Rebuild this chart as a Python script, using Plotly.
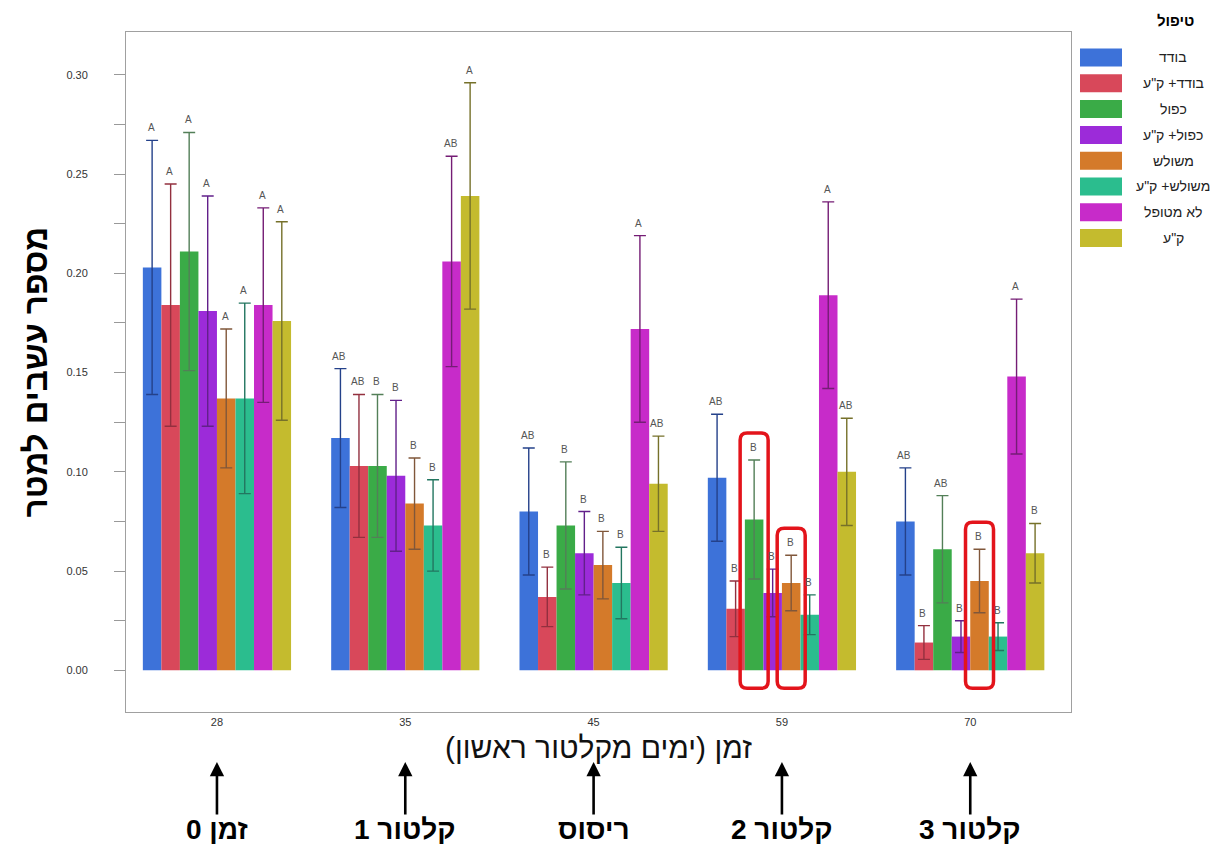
import plotly.graph_objects as go

# ---------------- data ----------------
days = ["28", "35", "45", "59", "70"]
treatments = ["בודד", "בודד+ ק\"ע", "כפול", "כפול+ ק\"ע", "משולש", "משולש+ ק\"ע", "לא מטופל", "ק\"ע"]

single_vals = [0.203, 0.117, 0.080, 0.097, 0.075]
single_err = [0.064, 0.035, 0.032, 0.032, 0.027]
single_ltr = ["A", "AB", "AB", "AB", "AB"]

single_h_vals = [0.184, 0.103, 0.037, 0.031, 0.014]
single_h_err = [0.061, 0.036, 0.015, 0.014, 0.0085]
single_h_ltr = ["A", "AB", "B", "B", "B"]

double_vals = [0.211, 0.103, 0.073, 0.076, 0.061]
double_err = [0.060, 0.036, 0.032, 0.030, 0.027]
double_ltr = ["A", "B", "B", "B", "AB"]

double_h_vals = [0.181, 0.098, 0.059, 0.039, 0.017]
double_h_err = [0.058, 0.038, 0.021, 0.012, 0.008]
double_h_ltr = ["A", "B", "B", "B", "B"]

triple_vals = [0.137, 0.084, 0.053, 0.044, 0.045]
triple_err = [0.035, 0.023, 0.017, 0.014, 0.016]
triple_ltr = ["A", "B", "B", "B", "B"]

triple_h_vals = [0.137, 0.073, 0.044, 0.028, 0.017]
triple_h_err = [0.048, 0.023, 0.018, 0.010, 0.007]
triple_h_ltr = ["A", "B", "B", "B", "B"]

untreated_vals = [0.184, 0.206, 0.172, 0.189, 0.148]
untreated_err = [0.049, 0.053, 0.047, 0.047, 0.039]
untreated_ltr = ["A", "AB", "A", "A", "A"]

herb_vals = [0.176, 0.239, 0.094, 0.100, 0.059]
herb_err = [0.050, 0.057, 0.024, 0.027, 0.015]
herb_ltr = ["A", "A", "AB", "AB", "B"]

y_ticks = [0.00, 0.05, 0.10, 0.15, 0.20, 0.25, 0.30]
y_tick_labels = ["0.00", "0.05", "0.10", "0.15", "0.20", "0.25", "0.30"]

stage_labels = ["זמן 0", "קלטור 1", "ריסוס", "קלטור 2", "קלטור 3"]
highlighted = [(3, 2), (3, 4), (4, 4)]  # (day index, treatment index)

series_vals = [single_vals, single_h_vals, double_vals, double_h_vals,
               triple_vals, triple_h_vals, untreated_vals, herb_vals]
series_err = [single_err, single_h_err, double_err, double_h_err,
              triple_err, triple_h_err, untreated_err, herb_err]
series_ltr = [single_ltr, single_h_ltr, double_ltr, double_h_ltr,
              triple_ltr, triple_h_ltr, untreated_ltr, herb_ltr]

# ---------------- style ----------------
colors = ["#3d72d9", "#d8485a", "#3aab47", "#9c2bd9", "#d47a2a", "#2bbd8e", "#c72bc9", "#c4bb2e"]
err_colors = ["#24418a", "#93303f", "#537f58", "#62208a", "#80573a", "#237660", "#751d75", "#76712a"]

OFF = 8  # page body margin of the browser
W, H = 1229 - OFF, 845 - OFF
PL, PR, PT, PB = 126, 1071, 32, 712   # plot area in window pixels
XR = [-0.483, 4.535]
YR = [-0.021, 0.3216]
BARGAP = 0.213
N = len(treatments)
bw = (1 - BARGAP) / N


def px_x(px):
    return (px - PL) / (PR - PL)


def px_y(py):
    return (PB - py) / (PB - PT)


dx_per_px = (XR[1] - XR[0]) / (PR - PL)
dy_per_px = (YR[1] - YR[0]) / (PB - PT)

fig = go.Figure()
for s in range(N):
    fig.add_trace(go.Bar(
        x=days, y=series_vals[s], name=treatments[s],
        marker=dict(color=colors[s], line=dict(width=0)),
        error_y=dict(type="data", array=series_err[s], visible=True,
                     color=err_colors[s], thickness=1.4, width=6),
        showlegend=False,
    ))

annotations = []
# significance letters
for s in range(N):
    for g in range(len(days)):
        annotations.append(dict(
            x=g + (s - (N - 1) / 2) * bw, y=series_vals[s][g] + series_err[s][g],
            xref="x", yref="y", text=series_ltr[s][g], showarrow=False,
            yanchor="bottom", yshift=5, xshift=-1,
            font=dict(size=10, color="#555555", family="Liberation Sans, Arial")))

# stage arrows and labels
for g in range(len(days)):
    annotations.append(dict(
        x=g, y=px_y(762), xref="x", yref="paper", text="", showarrow=True,
        ax=0, ay=54, arrowhead=2, arrowsize=1.1, arrowwidth=2.6, arrowcolor="#000000"))
    annotations.append(dict(
        x=g, y=px_y(829), xref="x", yref="paper", text="<b>" + stage_labels[g] + "</b>",
        showarrow=False, yanchor="middle",
        font=dict(size=28, color="#000000", family="Liberation Sans Narrow, Liberation Sans, Arial")))

# custom legend
annotations.append(dict(
    x=px_x(1175), y=px_y(20), xref="paper", yref="paper", text="<b>טיפול</b>",
    showarrow=False, yanchor="middle", xanchor="center",
    font=dict(size=15, color="#000000", family="Liberation Sans, Arial")))
shapes = []
for s in range(N):
    cy = 57.5 + s * 25.8
    shapes.append(dict(type="rect", xref="paper", yref="paper",
                       x0=px_x(1080), x1=px_x(1122), y0=px_y(cy - 9), y1=px_y(cy + 9),
                       fillcolor=colors[s], line=dict(width=0)))
    annotations.append(dict(
        x=px_x(1173), y=px_y(cy), xref="paper", yref="paper", text=treatments[s],
        showarrow=False, xanchor="center", yanchor="middle",
        font=dict(size=14, color="#222222", family="Liberation Sans, Arial")))

# highlight boxes (rounded)
for g, s in highlighted:
    cx = g + (s - (N - 1) / 2) * bw
    hw = 14 * dx_per_px
    x0, x1 = cx - hw, cx + hw
    y1 = series_vals[s][g] + series_err[s][g] + 27 * dy_per_px
    y0 = -18 * dy_per_px
    rx, ry = 7 * dx_per_px, 7 * dy_per_px
    path = (f"M{x0 + rx},{y0} L{x1 - rx},{y0} Q{x1},{y0} {x1},{y0 + ry} "
            f"L{x1},{y1 - ry} Q{x1},{y1} {x1 - rx},{y1} L{x0 + rx},{y1} "
            f"Q{x0},{y1} {x0},{y1 - ry} L{x0},{y0 + ry} Q{x0},{y0} {x0 + rx},{y0} Z")
    shapes.append(dict(type="path", xref="x", yref="y", path=path,
                       line=dict(color="#e3141b", width=3.5), fillcolor="rgba(0,0,0,0)"))

fig.update_layout(
    width=W, height=H,
    margin=dict(l=PL - OFF, r=1229 - PR, t=PT - OFF, b=845 - PB),
    paper_bgcolor="white", plot_bgcolor="white",
    barmode="group", bargap=BARGAP, bargroupgap=0,
    showlegend=False,
    annotations=annotations, shapes=shapes,
    font=dict(family="Liberation Sans, Arial"),
)
fig.update_xaxes(
    type="category", range=XR, showgrid=False, zeroline=False,
    showline=True, linecolor="#a0a0a0", linewidth=1, mirror=True,
    ticks="", tickfont=dict(size=11, color="#333333"),
    title=dict(text="\u200fזמן (ימים מקלטור ראשון)\u200f", standoff=9,
               font=dict(size=30, color="#111111", family="Liberation Sans, Arial")),
)
fig.update_yaxes(
    range=YR, showgrid=False, zeroline=False,
    showline=True, linecolor="#a0a0a0", linewidth=1, mirror=True,
    tickmode="array", tickvals=y_ticks, ticktext=y_tick_labels,
    ticks="outside", ticklen=11, tickcolor="#999999", ticklabelstandoff=24,
    minor=dict(tickmode="array", tickvals=[0.025, 0.075, 0.125, 0.175, 0.225, 0.275],
               ticks="outside", ticklen=11, tickcolor="#999999"),
    tickfont=dict(size=11, color="#333333"),
    title=dict(text="<b>מספר עשבים למטר</b>", standoff=8,
               font=dict(size=33, color="#000000", family="Liberation Sans, Arial")),
)

fig.write_html("out.html")
